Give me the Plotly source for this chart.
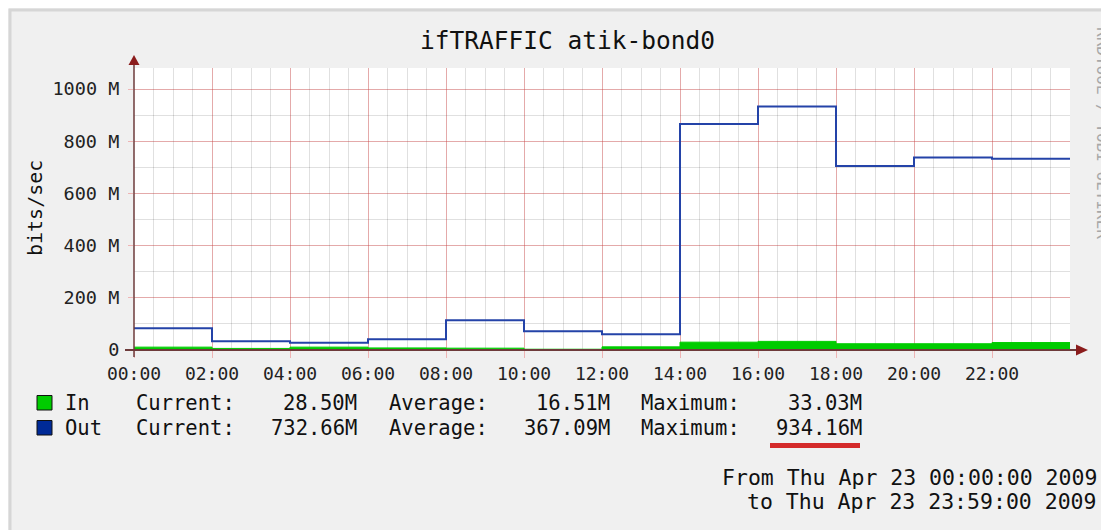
import plotly.graph_objects as go

# -------------------------------------------------------
# Data (2 hour slots, values in Mbit/s)
# -------------------------------------------------------

slot_start = [
    "2009-04-23 00:00", "2009-04-23 02:00", "2009-04-23 04:00",
    "2009-04-23 06:00", "2009-04-23 08:00", "2009-04-23 10:00",
    "2009-04-23 12:00", "2009-04-23 14:00", "2009-04-23 16:00",
    "2009-04-23 18:00", "2009-04-23 20:00", "2009-04-23 22:00",
]
end_time = "2009-04-24 00:00"

traffic_in = [11, 6, 11, 8, 7, 3, 12, 30, 33, 24, 24, 28.5]
traffic_out = [83, 34, 28, 41, 114, 72, 60, 866, 933, 705, 738, 732.7]

hour_ticks = ["2009-04-23 %02d:00" % h for h in range(0, 24, 2)]
hour_labels = ["%02d:00" % h for h in range(0, 24, 2)]

y_ticks = [0, 200, 400, 600, 800, 1000]
y_labels = ["0", "200 M", "400 M", "600 M", "800 M", "1000 M"]

stat_names = ["Current:", "Average:", "Maximum:"]
stats_in = ["28.50M", "16.51M", "33.03M"]
stats_out = ["732.66M", "367.09M", "934.16M"]

# -------------------------------------------------------
# Pixel helpers (screen pixels, page has an 8px body margin)
# -------------------------------------------------------

OFF = 8
W, H = 1109, 530
L, R, T, B = 134, 1070, 68, 350   # plot area on screen


def px(x):
    return (x - L) / (R - L)


def py(y):
    return (B - y) / (B - T)


MONO = "DejaVu Sans Mono"
GREEN = "#00cc00"
BLUE = "#002a97"
AXIS = "#6e3b3b"
ARROW = "#8b1c1c"
RED_GRID = "rgba(235,70,70,0.35)"
GRAY_GRID = "rgba(0,0,0,0.12)"

fig = go.Figure()

fig.add_trace(
    go.Scatter(
        x=slot_start + [end_time],
        y=traffic_in + [traffic_in[-1]],
        mode="lines",
        line=dict(shape="hv", width=1, color=GREEN),
        fill="tozeroy",
        fillcolor=GREEN,
        name="In",
    )
)

fig.add_trace(
    go.Scatter(
        x=slot_start + [end_time],
        y=traffic_out + [traffic_out[-1]],
        mode="lines",
        line=dict(shape="hv", width=2, color="#2443a8"),
        name="Out",
    )
)

fig.update_xaxes(
    range=["2009-04-23 00:00", end_time],
    tickmode="array",
    tickvals=hour_ticks,
    ticktext=hour_labels,
    showgrid=True,
    gridcolor=RED_GRID,
    gridwidth=1,
    ticks="outside",
    ticklen=7,
    tickcolor=RED_GRID,
    tickfont=dict(family=MONO, size=18, color="#222222"),
    minor=dict(
        tickmode="linear",
        tick0="2009-04-23 00:00",
        dtick=1800000,
        showgrid=True,
        gridcolor=GRAY_GRID,
        gridwidth=1,
    ),
    showline=False,
    zeroline=False,
)

fig.update_yaxes(
    range=[0, 1000 * (B - T) / 261.0],
    tickmode="array",
    tickvals=y_ticks,
    ticktext=y_labels,
    showgrid=True,
    gridcolor=RED_GRID,
    gridwidth=1,
    ticks="outside",
    ticklen=5,
    tickcolor=RED_GRID,
    ticklabelstandoff=5,
    tickfont=dict(family=MONO, size=18.5, color="#222222"),
    minor=dict(
        tickmode="linear",
        tick0=0,
        dtick=100,
        showgrid=True,
        gridcolor=GRAY_GRID,
        gridwidth=1,
    ),
    showline=False,
    zeroline=False,
)

shapes = [
    # frame edge
    dict(type="line", xref="paper", yref="paper", x0=px(9), x1=px(W + OFF),
         y0=py(10), y1=py(10), line=dict(color="#d6d6d6", width=3)),
    dict(type="line", xref="paper", yref="paper", x0=px(10), x1=px(10),
         y0=py(9), y1=py(H + OFF), line=dict(color="#d6d6d6", width=3)),
    # axes with arrows
    dict(type="line", xref="paper", yref="paper", x0=px(125), x1=px(1078),
         y0=py(B), y1=py(B), line=dict(color=AXIS, width=2)),
    dict(type="line", xref="paper", yref="paper", x0=px(L), x1=px(L),
         y0=py(357), y1=py(63), line=dict(color=AXIS, width=1.5)),
    dict(type="path", xref="paper", yref="paper",
         path="M %f %f L %f %f L %f %f Z" % (
             px(1076), py(344.5), px(1088), py(B), px(1076), py(355.5)),
         fillcolor=ARROW, line=dict(width=0)),
    dict(type="path", xref="paper", yref="paper",
         path="M %f %f L %f %f L %f %f Z" % (
             px(128.5), py(65), px(L), py(55), px(139.5), py(65)),
         fillcolor=ARROW, line=dict(width=0)),
    # legend boxes
    dict(type="rect", xref="paper", yref="paper", x0=px(37), x1=px(52),
         y0=py(395.5), y1=py(410), fillcolor=GREEN, line=dict(color="#111111", width=1)),
    dict(type="rect", xref="paper", yref="paper", x0=px(37), x1=px(52),
         y0=py(420.5), y1=py(435), fillcolor=BLUE, line=dict(color="#111111", width=1)),
    # highlight under maximum
    dict(type="rect", xref="paper", yref="paper", x0=px(770), x1=px(860),
         y0=py(443), y1=py(448), fillcolor="#d42a2a", line=dict(width=0)),
]


def label(text, x, y, size, anchor="left", color="#111111", angle=0):
    return dict(
        text=text, xref="paper", yref="paper", x=px(x), y=py(y),
        xanchor=anchor, yanchor="middle", showarrow=False, textangle=angle,
        font=dict(family=MONO, size=size, color=color),
    )


annotations = [
    label("ifTRAFFIC atik-bond0", 567, 40, 24.5, anchor="center"),
    label("bits/sec", 35, 208, 20, anchor="center", angle=-90),
    label("RRDTOOL / TOBI OETIKER", 1103, 133, 16, anchor="center",
          color="#a8a8a8", angle=90),
    label("From Thu Apr 23 00:00:00 2009", 1099, 477, 21.5, anchor="right"),
    label("to Thu Apr 23 23:59:00 2009", 1099, 501, 21.5, anchor="right"),
]

name_x = [134, 387, 639]
value_x = [359, 612, 864]
rows = [("In", stats_in, 403), ("Out", stats_out, 428)]

for series, values, y in rows:
    annotations.append(label(series, 63, y, 20.5))
    for i in range(3):
        annotations.append(label(stat_names[i], name_x[i], y, 20.5))
        annotations.append(label(values[i], value_x[i], y, 20.5, anchor="right"))

fig.update_layout(
    width=W,
    height=H,
    margin=dict(l=L - OFF, r=W - (R - OFF), t=T - OFF, b=H - (B - OFF)),
    paper_bgcolor="#f0f0f0",
    plot_bgcolor="white",
    showlegend=False,
    shapes=shapes,
    annotations=annotations,
)

fig.write_html("out.html")
